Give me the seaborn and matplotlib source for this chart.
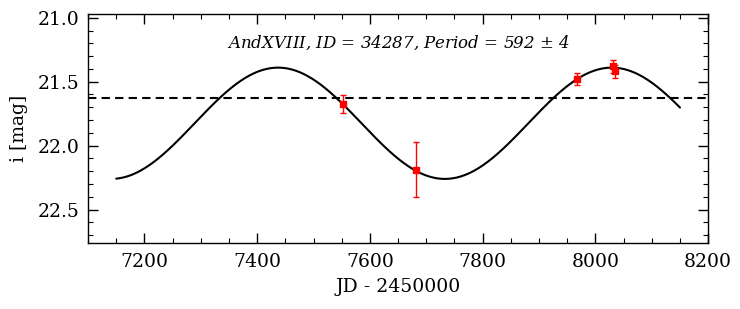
"""
Light curve of AndXVIII ID 34287 with a sinusoidal fit.
"""
import numpy as np
import pandas as pd
import matplotlib
matplotlib.use("Agg")
import matplotlib.pyplot as plt
import seaborn as sns
from matplotlib.ticker import MultipleLocator

# observed points
jd = [7552, 7681, 7968, 8031, 8034]
mag = [21.675, 22.19, 21.48, 21.38, 21.42]
mag_err = [0.07, 0.215, 0.045, 0.05, 0.05]

# sinusoidal fit parameters
period = 592.0
amplitude = 0.435
mean_mag = 21.825
t_max = 7437.0      # epoch of maximum brightness
fit_range = (7150, 8150)
ref_level = 21.625  # dashed reference level

title = r"AndXVIII, ID = 34287, Period = 592 $\pm$ 4"

sns.set_style("ticks", {"axes.edgecolor": "black", "text.color": "black",
                        "axes.labelcolor": "black", "xtick.color": "black",
                        "ytick.color": "black"})
plt.rcParams["font.family"] = ["DejaVu Serif"]
plt.rcParams["mathtext.fontset"] = "dejavuserif"

t = np.linspace(fit_range[0], fit_range[1], 500)
fit = pd.DataFrame({"jd": t,
                    "mag": mean_mag - amplitude * np.cos(2 * np.pi * (t - t_max) / period)})

fig = plt.figure(figsize=(7.4, 3.09), dpi=100)
ax = fig.add_axes([0.119, 0.214, 0.838, 0.741])

sns.lineplot(data=fit, x="jd", y="mag", color="black", lw=1.5, ax=ax)
ax.axhline(ref_level, color="black", ls="--", lw=1.5, dashes=(4, 2.5))
ax.errorbar(jd, mag, yerr=mag_err, fmt="s", color="red", ms=4,
            elinewidth=1, capsize=2.5, capthick=1, zorder=5)

ax.set_xlim(7100, 8200)
ax.set_ylim(22.76, 20.97)
ax.xaxis.set_major_locator(MultipleLocator(200))
ax.xaxis.set_minor_locator(MultipleLocator(50))
ax.yaxis.set_major_locator(MultipleLocator(0.5))
ax.yaxis.set_minor_locator(MultipleLocator(0.1))
ax.tick_params(which="both", direction="in", top=True, right=True,
               labelsize=13.5, colors="black")
ax.tick_params(which="major", length=7, width=1)
ax.tick_params(which="minor", length=3.5, width=0.8)
ax.tick_params(axis="x", which="major", pad=7)
ax.tick_params(axis="y", which="major", pad=6)
for s in ax.spines.values():
    s.set_linewidth(1)
    s.set_color("black")

ax.set_xlabel("JD - 2450000", fontsize=13.5, labelpad=5, color="black")
ax.set_ylabel("i [mag]", fontsize=13.5, labelpad=7, color="black")
ax.text(0.5, 0.875, title, transform=ax.transAxes, ha="center", va="center",
        fontsize=12, style="italic", color="black")

fig.savefig("out.png", dpi=100)
